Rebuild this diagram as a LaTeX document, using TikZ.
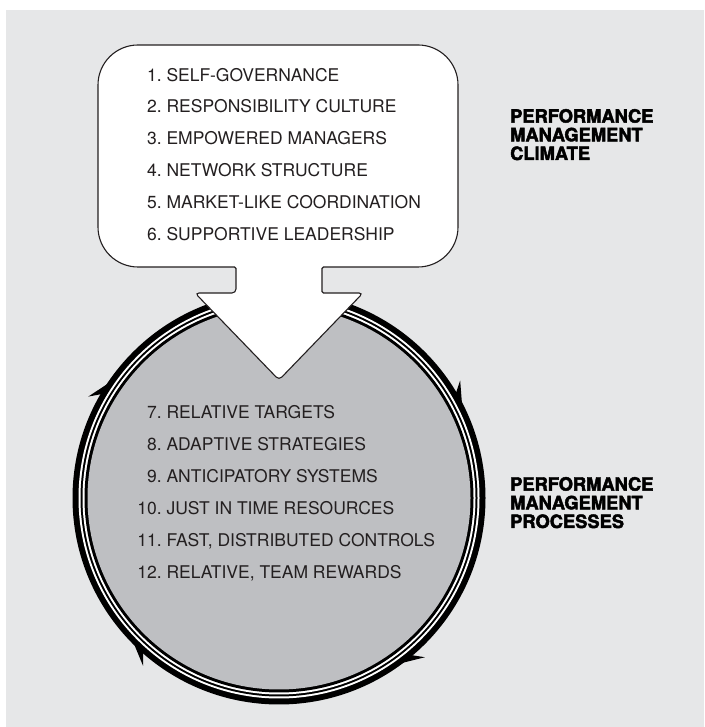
\documentclass[tikz,border=0pt]{standalone}
\usepackage{fontspec}
\setmainfont{TeX Gyre Heros}
\newfontfamily\heavyfont[FakeBold=2.5]{TeX Gyre Heros}
\usepackage{tikz}

\definecolor{panelgray}{HTML}{E6E7E8}
\definecolor{discgray}{HTML}{BEBFC2}
\definecolor{inkgray}{HTML}{231F20}

\tikzset{
	listitem/.style={anchor=base west, inner sep=0pt, text=inkgray, font=\fontsize{17.5}{20}\selectfont},
	heading/.style={anchor=base west, inner sep=0pt, align=left, text=black, font=\heavyfont\bfseries\fontsize{18.3}{18.7}\selectfont}
}
\newcommand{\itm}[2]{\makebox[1.4em][r]{#1.}\ #2}

\begin{document}
\begin{tikzpicture}[x=1pt, y=1pt]
			\useasboundingbox (0,0) rectangle (704,727);
			%background panel
			\fill[panelgray] (6,0) rectangle (704,717);
			%disc with triple ring
			\coordinate (hub) at (279,229);
			\fill[black] (hub) circle (206.5);
			\fill[white] (hub) circle (200.5);
			\fill[black] (hub) circle (198.5);
			\fill[white] (hub) circle (196.5);
			\fill[black] (hub) circle (194.5);
			\fill[discgray] (hub) circle (191.5);
			%barbs, clockwise
			\begin{scope}[shift={(hub)}]
				\fill (26:204) -- (33:216) -- (30.5:205) -- cycle;
				\fill (145:204) -- (152:216) -- (149.5:205) -- cycle;
				\fill (224:204) -- (231:216) -- (228.5:205) -- cycle;
				\fill (305.5:204) -- (312.5:216) -- (310:205) -- cycle;
			\end{scope}
			%processes
			\node[listitem] (process7) at (137,308) {\itm{7}{RELATIVE TARGETS}};
			\node[listitem] (process8) at (137,276) {\itm{8}{ADAPTIVE STRATEGIES}};
			\node[listitem] (process9) at (137,244) {\itm{9}{ANTICIPATORY SYSTEMS}};
			\node[listitem] (process10) at (137,212) {\itm{10}{JUST IN TIME RESOURCES}};
			\node[listitem] (process11) at (137,180) {\itm{11}{FAST, DISTRIBUTED CONTROLS}};
			\node[listitem] (process12) at (137,148) {\itm{12}{RELATIVE, TEAM REWARDS}};
			%box and arrow in one outline
			\filldraw[fill=white, draw=inkgray, line width=1.1pt]
				(279,347) [rounded corners=4pt] -- (195,434) -- (236,434) [rounded corners=1.5pt] -- (236,460)
				[rounded corners=40pt] -- (98,460) -- (98,682) -- (458,682) -- (458,460)
				[rounded corners=1.5pt] -- (322,460) -- (322,434) [rounded corners=4pt] -- (363,434) -- cycle;
			%climate
			\node[listitem] (climate1) at (137,645) {\itm{1}{SELF-GOVERNANCE}};
			\node[listitem] (climate2) at (137,614) {\itm{2}{RESPONSIBILITY CULTURE}};
			\node[listitem] (climate3) at (137,582) {\itm{3}{EMPOWERED MANAGERS}};
			\node[listitem] (climate4) at (137,550) {\itm{4}{NETWORK STRUCTURE}};
			\node[listitem] (climate5) at (137,518) {\itm{5}{MARKET-LIKE COORDINATION}};
			\node[listitem] (climate6) at (137,486) {\itm{6}{SUPPORTIVE LEADERSHIP}};
			%side headings
			\node[heading] (climatehead) at (510,567) {PERFORMANCE\\MANAGEMENT\\CLIMATE};
			\node[heading] (processhead) at (510,199) {PERFORMANCE\\MANAGEMENT\\PROCESSES};
		\end{tikzpicture}
\end{document}
